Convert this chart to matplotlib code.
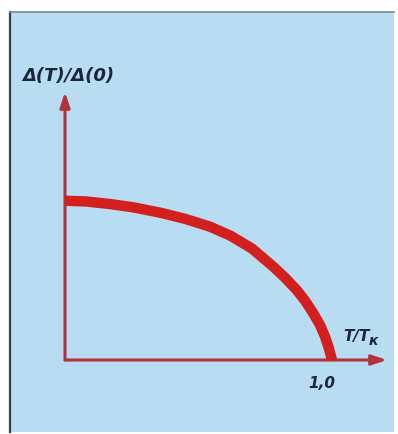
import matplotlib.pyplot as plt
from matplotlib.patches import Rectangle

# Ширина щели в зависимости от температуры, Δ(T)/Δ(0) от T/Tк
t_rel = [0.0, 0.08, 0.169, 0.26, 0.356, 0.45, 0.543, 0.62, 0.70, 0.78,
         0.825, 0.868, 0.90, 0.93, 0.955, 0.974, 0.988, 1.0]
gap_rel = [1.0, 0.995, 0.979, 0.957, 0.925, 0.886, 0.837, 0.78, 0.70, 0.586,
           0.515, 0.439, 0.37, 0.293, 0.22, 0.146, 0.075, 0.0]

fon = '#b8dcf1'
krasn = '#d41f1f'
osi = '#b3323a'
tekst = '#1b2638'

fig = plt.figure(figsize=(3.98, 4.34), dpi=100)
fig.patch.set_facecolor('white')

ax = fig.add_axes([0, 0, 1, 1])
ax.set_facecolor('none')
ax.set_axis_off()

# голубая подложка рисунка
ax.add_patch(Rectangle((10 / 398, 2 / 434), 384 / 398, 420 / 434,
                       transform=fig.transFigure, facecolor=fon,
                       edgecolor='none', zorder=0, clip_on=False))
ax.plot([10 / 398, 10 / 398], [2 / 434, 422 / 434], transform=fig.transFigure,
        color='#3a3f44', lw=1.6, zorder=1, clip_on=False)
ax.plot([10 / 398, 394 / 398], [422 / 434, 422 / 434], transform=fig.transFigure,
        color='#7a8a90', lw=1.2, zorder=1, clip_on=False)

# начало координат в (65, 360) px, 1.0 по x -> 332 px, 1.0 по y -> 200.7 px
sx = 267.0
sy = 159.3
ax.set_xlim(-65 / sx, (398 - 65) / sx)
ax.set_ylim(-(434 - 360) / sy, 360 / sy)

# оси со стрелками
ax.annotate('', xy=((387 - 65) / sx, 0), xytext=(0, 0),
            arrowprops=dict(arrowstyle='-|>,head_length=0.9,head_width=0.3',
                            color=osi, lw=2.2, shrinkA=0, shrinkB=0), zorder=2)
ax.annotate('', xy=(0, (360 - 92) / sy), xytext=(0, 0),
            arrowprops=dict(arrowstyle='-|>,head_length=0.9,head_width=0.3',
                            color=osi, lw=2.2, shrinkA=0, shrinkB=0), zorder=2)

ax.plot(t_rel, gap_rel, color=krasn, lw=7.5, solid_capstyle='butt',
        solid_joinstyle='round', zorder=3)

ax.text(22 / sx - 65 / sx, (360 - 76) / sy, 'Δ(T)/Δ(0)', fontsize=13,
        fontweight='bold', style='italic', color=tekst, ha='left', va='center')
ax.text((343 - 65) / sx, (360 - 336) / sy, 'T/T', fontsize=11,
        fontweight='bold', style='italic', color=tekst, ha='left', va='center')
ax.text((369 - 65) / sx, (360 - 341) / sy, 'к', fontsize=10,
        fontweight='bold', style='italic', color=tekst, ha='left', va='center')
ax.text((322 - 65) / sx, (360 - 384) / sy, '1,0', fontsize=11,
        fontweight='bold', style='italic', color=tekst, ha='center', va='center')

fig.savefig('out.png', dpi=100, facecolor=fig.get_facecolor())
